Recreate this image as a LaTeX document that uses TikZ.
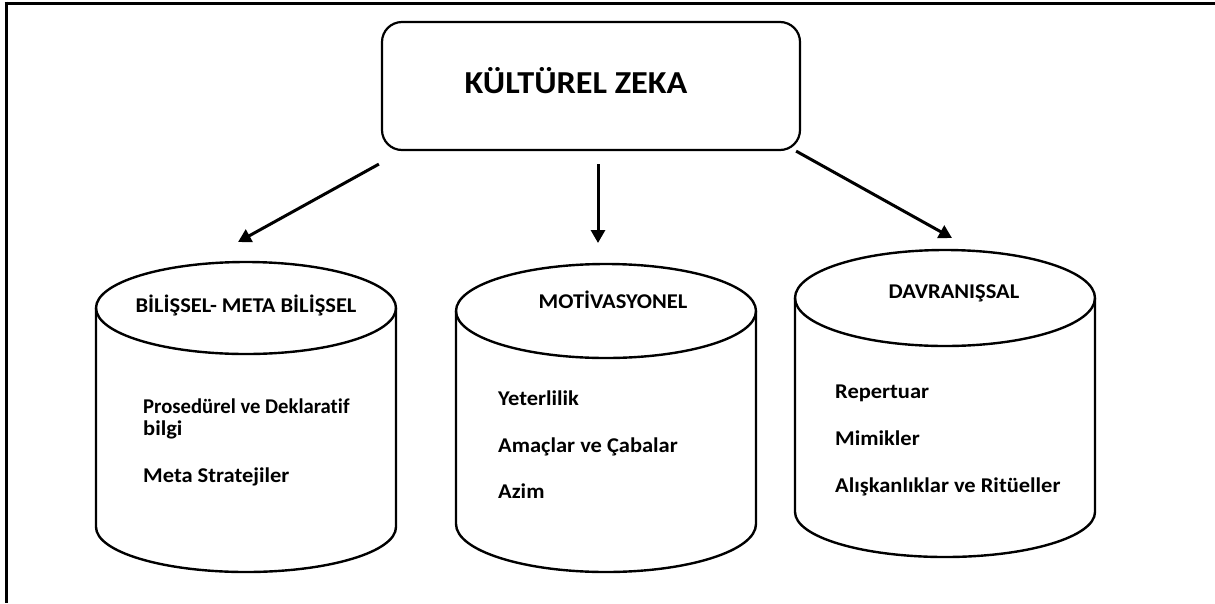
\documentclass[tikz,border=0pt]{standalone}
\usepackage{fontspec}
\setmainfont{Carlito}[FakeStretch=1.07,Ligatures={NoCommon}]
\usetikzlibrary{arrows.meta}
\newcommand\drawcyl[5]{%
  \draw[cylline] (#1,#2) ellipse [x radius=150pt, y radius=#3pt];
  \draw[cylline] ({#1-150},#2) -- ({#1-150},#4)
     arc[start angle=180, end angle=360, x radius=150pt, y radius=#5pt] -- ({#1+150},#2);
}
\begin{document}
\begin{tikzpicture}[x=1pt,y=-1pt,
  frame/.style={line width=3pt},
  cylline/.style={line width=2.4pt},
  arr/.style={line width=3pt, -{Triangle[length=13pt,width=14pt]}},
  titlebox/.style={draw, line width=2.2pt, rounded corners=20pt, minimum width=418pt, minimum height=128pt, inner sep=0pt},
  titletxt/.style={font=\fontsize{32}{36}\selectfont\bfseries, anchor=base, inner sep=0pt},
  headtxt/.style={font=\fontsize{21}{25}\selectfont\bfseries, anchor=base, inner sep=0pt},
  bodytxt/.style={font=\fontsize{21}{25}\selectfont\bfseries, anchor=base west, inner sep=0pt},
]
\useasboundingbox (0,0) rectangle (1215,603);
% frame (top and left edges visible)
\draw[frame] (4.5,3) -- (1215,3);
\draw[frame] (6,1.5) -- (6,603);

% top box
\node[titlebox] (top) at (591,86) {};
\node[titletxt] (title) at (576,93) {KÜLTÜREL ZEKA};

% cylinders
\drawcyl{246}{308}{46}{527}{45}
\drawcyl{606}{311}{47}{524}{48}
\drawcyl{945}{298}{48}{512}{45}

% arrow targets
\coordinate (t1) at (238,242);
\coordinate (t2) at (598,243);
\coordinate (t3) at (952,238);

\draw[arr] ([shift={(-2pt,-13pt)}]top.south west) -- (t1);
\draw[arr] ([shift={(7pt,-13pt)}]top.south) -- (t2);
\draw[arr] ([shift={(-5pt,0pt)}]top.south east) -- (t3);

% cylinder 1 texts
\node[headtxt] (h1) at (246,312) {BİLİŞSEL- META BİLİŞSEL};
\node[bodytxt] (b11) at (143,413) {\scalebox{0.92}[1]{Prosedürel ve Deklaratif}};
\node[bodytxt] (b12) at (143,435) {bilgi};
\node[bodytxt] (b13) at (143,482) {Meta Stratejiler};

% cylinder 2 texts
\node[headtxt] (h2) at (613,308) {MOTİVASYONEL};
\node[bodytxt] (b21) at (498,405) {Yeterlilik};
\node[bodytxt] (b22) at (498,452) {Amaçlar ve Çabalar};
\node[bodytxt] (b23) at (498,498) {Azim};

% cylinder 3 texts
\node[headtxt] (h3) at (954,298) {DAVRANIŞSAL};
\node[bodytxt] (b31) at (835,398) {Repertuar};
\node[bodytxt] (b32) at (835,445) {Mimikler};
\node[bodytxt] (b33) at (835,492) {Alışkanlıklar ve Ritüeller};
\end{tikzpicture}
\end{document}
